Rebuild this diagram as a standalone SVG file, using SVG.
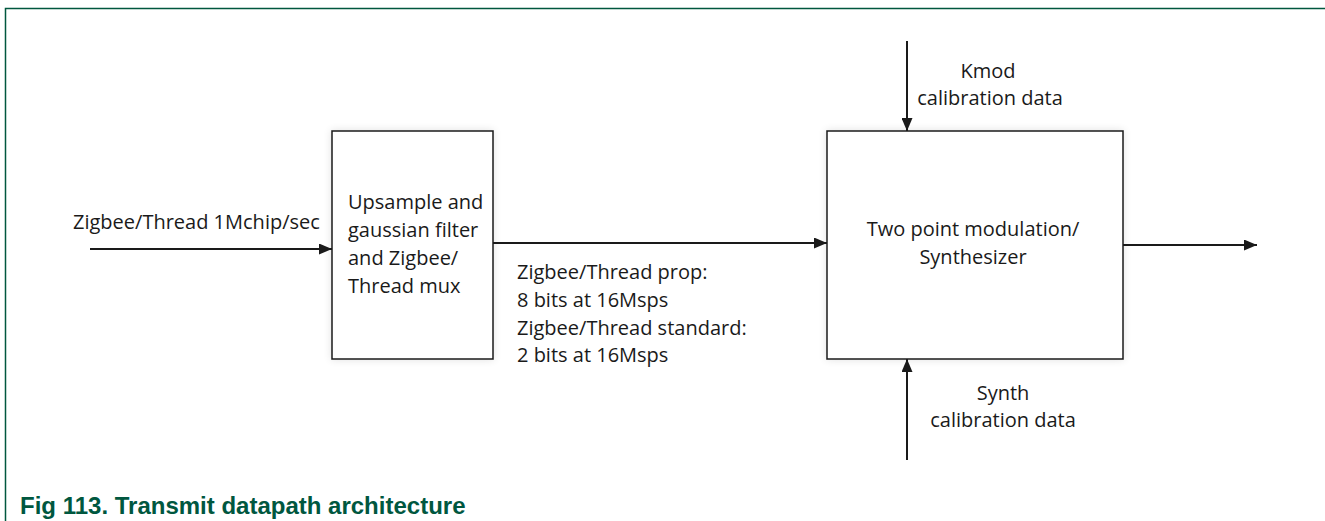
<svg xmlns="http://www.w3.org/2000/svg" width="1325" height="521" viewBox="0 0 1325 521">
<style>
.t{font-family:"Open Sans","Liberation Sans",sans-serif;font-size:20px;fill:#1a1a1a}
.box{fill:#fff;stroke:#1a1a1a;stroke-width:1.5}
.ln{stroke:#1a1a1a;stroke-width:2;fill:none}
.cap{font-family:"Liberation Sans",Arial,sans-serif;font-weight:bold;font-size:24px;fill:#00573f}
</style>
<defs>
<marker id="ah" viewBox="0 0 13 11" refX="13" refY="5.5" markerWidth="13" markerHeight="11" markerUnits="userSpaceOnUse" orient="auto">
<path d="M0,0 L13,5.5 L0,11 Z" fill="#1a1a1a"/>
</marker>
<filter id="sh" x="-10%" y="-10%" width="120%" height="120%">
<feGaussianBlur in="SourceAlpha" stdDeviation="4"/>
<feComponentTransfer><feFuncA type="linear" slope="0.12"/></feComponentTransfer>
<feMerge><feMergeNode/><feMergeNode in="SourceGraphic"/></feMerge>
</filter>
</defs>
<rect width="1325" height="521" fill="#fff"/>
<path d="M5.5,521 V8.5 H1325" fill="none" stroke="#00573f" stroke-width="1.5"/>
<g id="connectors">
<line class="ln" x1="90" y1="249" x2="332" y2="249" marker-end="url(#ah)"/>
<line class="ln" x1="493" y1="243" x2="827" y2="243" marker-end="url(#ah)"/>
<line class="ln" x1="1123" y1="245" x2="1257" y2="245" marker-end="url(#ah)"/>
<line class="ln" x1="907" y1="41" x2="907" y2="131" marker-end="url(#ah)"/>
<line class="ln" x1="907" y1="460" x2="907" y2="359" marker-end="url(#ah)"/>
<text class="t" x="73" y="229">Zigbee/Thread 1Mchip/sec</text>
<text class="t" x="517" y="279">Zigbee/Thread prop:</text>
<text class="t" x="517" y="307">8 bits at 16Msps</text>
<text class="t" x="517" y="335">Zigbee/Thread standard:</text>
<text class="t" x="517" y="362">2 bits at 16Msps</text>
<text class="t" x="988" y="78" text-anchor="middle">Kmod</text>
<text class="t" x="990" y="105" text-anchor="middle">calibration data</text>
<text class="t" x="1003" y="400" text-anchor="middle">Synth</text>
<text class="t" x="1003" y="427" text-anchor="middle">calibration data</text>
</g>
<g id="node-upsample">
<rect class="box" x="332" y="131" width="161" height="228" filter="url(#sh)"/>
<text class="t" x="348" y="209">Upsample and</text>
<text class="t" x="348" y="237">gaussian filter</text>
<text class="t" x="348" y="265">and Zigbee/</text>
<text class="t" x="348" y="293">Thread mux</text>
</g>
<g id="node-synth">
<rect class="box" x="827" y="131" width="296" height="228" filter="url(#sh)"/>
<text class="t" x="973" y="236" text-anchor="middle">Two point modulation/</text>
<text class="t" x="973" y="264" text-anchor="middle">Synthesizer</text>
</g>
<text class="cap" x="20" y="514">Fig 113. Transmit datapath architecture</text>
</svg>
